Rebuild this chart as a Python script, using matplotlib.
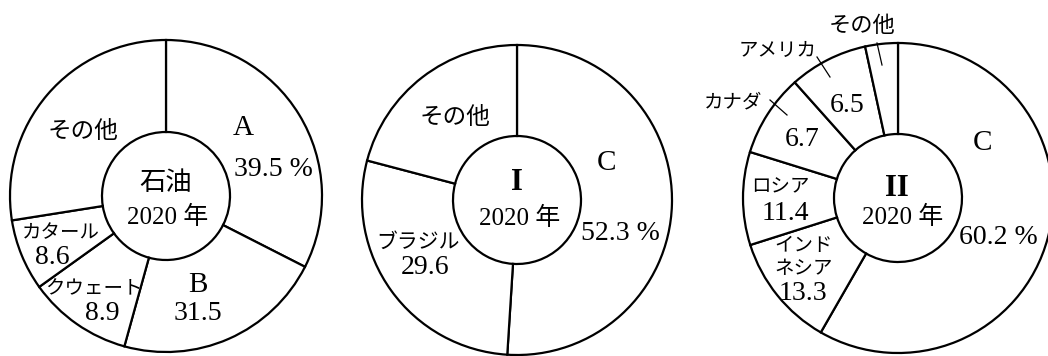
import matplotlib.pyplot as plt

# 石油 2020年
oil_names = ['A', 'B', 'クウェート', 'カタール', 'その他']
oil_values = [39.5, 31.5, 8.9, 8.6, 11.5]
oil_drawn = [32.5, 21.8, 10.8, 7.4, 27.5]   # wedge sizes as drawn (the figure is not to scale)

# I 2020年
one_names = ['C', 'ブラジル', 'その他']
one_values = [52.3, 29.6, 18.1]
one_drawn = [51.0, 28.1, 20.9]

# II 2020年
two_names = ['C', 'インド\nネシア', 'ロシア', 'カナダ', 'アメリカ', 'その他']
two_values = [60.2, 13.3, 11.4, 6.7, 6.5, 1.9]
two_drawn = [58.3, 11.8, 9.7, 8.6, 8.2, 3.4]

W, H = 1048, 356
JP = ['Noto Sans CJK JP']
SERIF = ['Liberation Serif', 'Noto Sans CJK JP']
NUM = 20

fig = plt.figure(figsize=(W / 100, H / 100), dpi=100)
ax = fig.add_axes([0, 0, 1, 1])


def txt(x, y, s, family=JP, size=15, **kw):
    ax.text(x, H - y, s, family=family, fontsize=size, ha='center', va='center', **kw)


def donut(sizes, cx, cy, r=155, r_in=64):
    ax.pie(sizes, radius=r, center=(cx, H - cy), startangle=90, counterclock=False,
           wedgeprops=dict(width=r - r_in, edgecolor='black', linewidth=1.6, facecolor='white'))


donut(oil_drawn, 166, 196, r=156)
donut(one_drawn, 517, 200)
donut(two_drawn, 898, 198)

# chart 1
txt(166, 182, '石油', size=19)
txt(168, 217, '2020 年', family=SERIF, size=18)
name_pos = [(243, 128), (198, 285), (94, 289), (61, 233), (83, 132)]
val_pos = [(273, 170), (198, 313), (102, 313), (52, 257), None]
for i, (name, v) in enumerate(zip(oil_names, oil_values)):
    if len(name) == 1:
        txt(*name_pos[i], name, family=SERIF, size=21)
    else:
        txt(*name_pos[i], name, size=17 if name == 'その他' else 14)
    if val_pos[i] is not None:
        s = f'{v:.1f} %' if i == 0 else f'{v:.1f}'
        txt(*val_pos[i], s, family=SERIF, size=NUM)

# chart 2
txt(517, 182, 'I', family=SERIF, size=22, fontweight='bold')
txt(520, 218, '2020 年', family=SERIF, size=18)
name_pos = [(607, 163), (418, 242), (455, 117)]
val_pos = [(620, 233), (425, 268), None]
for i, (name, v) in enumerate(zip(one_names, one_values)):
    if len(name) == 1:
        txt(*name_pos[i], name, family=SERIF, size=21)
    else:
        txt(*name_pos[i], name, size=17 if name == 'その他' else 15)
    if val_pos[i] is not None:
        s = f'{v:.1f} %' if i == 0 else f'{v:.1f}'
        txt(*val_pos[i], s, family=SERIF, size=NUM)

# chart 3
txt(897, 188, 'II', family=SERIF, size=22, fontweight='bold')
txt(903, 217, '2020 年', family=SERIF, size=18)
name_pos = [(983, 143), (804, 257), (780, 187), (733, 102), (778, 50), (862, 25)]
val_pos = [(998, 237), (803, 293), (785, 213), (802, 140), (847, 105), None]
for i, (name, v) in enumerate(zip(two_names, two_values)):
    if len(name) == 1:
        txt(*name_pos[i], name, family=SERIF, size=21)
    elif name == 'その他':
        txt(*name_pos[i], name, size=16)
    else:
        txt(*name_pos[i], name, size=14, linespacing=1.1)
    if val_pos[i] is not None:
        s = f'{v:.1f} %' if i == 0 else f'{v:.1f}'
        txt(*val_pos[i], s, family=SERIF, size=NUM)

# leader lines for small slices
for (x0, y0), (x1, y1) in [((770, 100), (787, 115)), ((817, 57), (830, 77)), ((877, 43), (882, 65))]:
    ax.plot([x0, x1], [H - y0, H - y1], color='black', linewidth=0.9)

ax.set_xlim(0, W)
ax.set_ylim(0, H)
ax.set_aspect('equal')
ax.axis('off')
fig.savefig('out.png', dpi=100, facecolor='white')
